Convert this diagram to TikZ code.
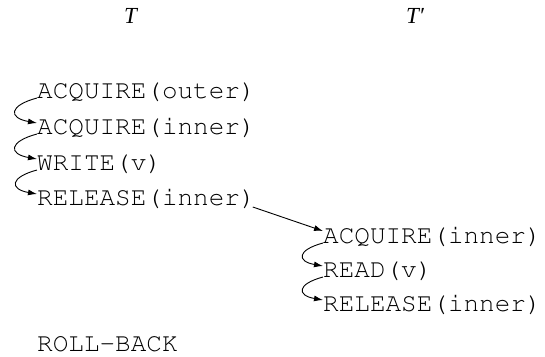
\documentclass[tikz,border=0pt]{standalone}
\usepackage{fontspec}
\setmainfont{Liberation Serif}
\usetikzlibrary{positioning,arrows.meta}

\begin{document}
\begin{tikzpicture}[x=1pt, y=1pt,
    op/.style={anchor=base west, inner sep=0pt, font=\fontencoding{T1}\fontfamily{pcr}\fontsize{26}{30}\selectfont},
    tr/.style={anchor=base west, inner sep=0pt, font=\fontsize{23}{27}\selectfont\itshape},
    link/.style={-{Latex[length=9pt,width=6pt]}, line width=0.9pt, black},
    seq/.style={link, out=195, in=170, looseness=3}]
  \useasboundingbox (0,0) rectangle (545,-356);
  % transactions
  \node[tr] (T) at (124,-23) {T};
  \node[tr] (Tp) at (406,-23) {T′};
  % left column
  \node[op] (A1) at (37,-98) {ACQUIRE(outer)};
  \node[op] (A2) at (37,-134) {ACQUIRE(inner)};
  \node[op] (W) at (37,-170) {WRITE(v)};
  \node[op] (R1) at (37,-205) {RELEASE(inner)};
  % right column
  \node[op] (A3) at (323,-243) {ACQUIRE(inner)};
  \node[op] (Rd) at (323,-277) {READ(v)};
  \node[op] (R2) at (323,-311) {RELEASE(inner)};
  \node[op] (RB) at (37,-351) {ROLL-BACK};
  % order arrows
  \draw[seq] (A1.base west) to ([yshift=11pt]A2.base west);
  \draw[seq] (A2.base west) to ([yshift=11pt]W.base west);
  \draw[seq] (W.base west) to ([yshift=11pt]R1.base west);
  \draw[seq] (A3.base west) to ([yshift=11pt]Rd.base west);
  \draw[seq] (Rd.base west) to ([yshift=11pt]R2.base west);
  \draw[link] ([xshift=-3pt, yshift=-2pt]R1.base east) -- ([yshift=12pt]A3.base west);
\end{tikzpicture}
\end{document}
